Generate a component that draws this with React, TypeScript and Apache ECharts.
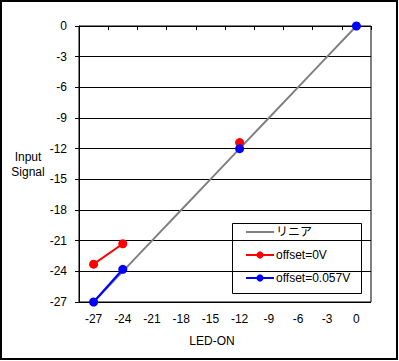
import React, { useEffect, useRef } from "react";
import * as echarts from "echarts";

const categories = ["-27", "-24", "-21", "-18", "-15", "-12", "-9", "-6", "-3", "0"];
const linear = [-27, -24, -21, -18, -15, -12, -9, -6, -3, 0];
const offset0V = [-23.3, -21.3, null, null, null, -11.4, null, null, null, null];
const offset057V = [-27, -23.8, null, null, null, -12, null, null, null, 0];
const seriesNames = ["リニア", "offset=0V", "offset=0.057V"];
const yTicks = { min: -27, max: 0, interval: 3 };

const FONT = "'Liberation Sans', Arial, 'Noto Sans CJK JP', sans-serif";

export default function App() {
  const ref = useRef<HTMLDivElement>(null);
  useEffect(() => {
    if (!ref.current) return;
    const chart = echarts.init(ref.current, undefined, { renderer: "svg" });
    chart.setOption({
      animation: false,
      backgroundColor: "#fff",
      textStyle: { fontFamily: FONT },
      grid: {
        left: 79,
        right: 28,
        top: 26,
        bottom: 59,
        show: true,
        borderColor: "#000",
        borderWidth: 1,
      },
      xAxis: {
        type: "category",
        data: categories,
        boundaryGap: true,
        axisLine: { lineStyle: { color: "#000", width: 1 } },
        axisTick: { show: true, inside: false, length: 4, lineStyle: { color: "#000" } },
        axisLabel: { color: "#000", fontSize: 12, margin: 11, fontFamily: FONT },
        splitLine: { show: false },
      },
      yAxis: {
        type: "value",
        min: yTicks.min,
        max: yTicks.max,
        interval: yTicks.interval,
        axisLine: { show: true, lineStyle: { color: "#000", width: 1 } },
        axisTick: { show: true, inside: false, length: 4, lineStyle: { color: "#000" } },
        axisLabel: { color: "#000", fontSize: 12, margin: 12, fontFamily: FONT },
        splitLine: { show: true, lineStyle: { color: "#000", width: 1 } },
      },
      legend: {
        orient: "vertical",
        left: 245,
        top: 226,
        padding: 0,
        itemGap: 11,
        itemWidth: 28,
        itemHeight: 9,
        data: [
          { name: seriesNames[0], itemStyle: { opacity: 0 } },
          { name: seriesNames[1] },
          { name: seriesNames[2] },
        ],
        textStyle: { color: "#000", fontSize: 12, fontFamily: FONT, padding: [0, 0, 0, -3] },
      },
      graphic: [
        {
          type: "rect",
          shape: { x: 1, y: 1, width: 396, height: 358 },
          style: { fill: "none", stroke: "#000", lineWidth: 2 },
          silent: true,
        },
        {
          type: "rect",
          shape: { x: 232.5, y: 223.5, width: 129, height: 70 },
          style: { fill: "none", stroke: "#000", lineWidth: 1 },
          silent: true,
          z: 0,
        },
        {
          type: "text",
          x: 28,
          y: 164,
          style: {
            text: "Input\nSignal",
            font: `12px ${FONT}`,
            fill: "#000",
            align: "center",
            verticalAlign: "middle",
            lineHeight: 15,
          },
        },
        {
          type: "text",
          x: 212,
          y: 341,
          style: {
            text: "LED-ON",
            font: `12px ${FONT}`,
            fill: "#000",
            align: "center",
            verticalAlign: "middle",
          },
        },
      ],
      series: [
        {
          name: seriesNames[0],
          type: "line",
          data: linear,
          showSymbol: false,
          symbol: "none",
          lineStyle: { color: "#808080", width: 2 },
          itemStyle: { color: "#808080" },
          z: 2,
        },
        {
          name: seriesNames[1],
          type: "line",
          data: offset0V,
          symbol: "circle",
          symbolSize: 9,
          connectNulls: false,
          lineStyle: { color: "#FF0000", width: 2 },
          itemStyle: { color: "#FF0000" },
          z: 3,
        },
        {
          name: seriesNames[2],
          type: "line",
          data: offset057V,
          symbol: "circle",
          symbolSize: 9,
          connectNulls: false,
          lineStyle: { color: "#0000FF", width: 2 },
          itemStyle: { color: "#0000FF" },
          z: 4,
        },
      ],
    });
    return () => chart.dispose();
  }, []);
  return (
    <div
      ref={ref}
      style={{ position: "absolute", left: 0, top: 0, width: 399, height: 361 }}
    />
  );
}
